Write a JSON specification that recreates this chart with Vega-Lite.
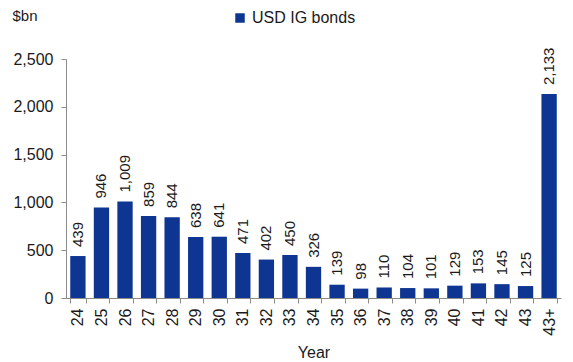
{
  "$schema": "https://vega.github.io/schema/vega-lite/v6.json",
  "width": 495,
  "height": 239,
  "autosize": {"type": "none"},
  "padding": {"left": 66, "top": 59, "right": 12, "bottom": 64},
  "background": "white",
  "config": {
    "font": "Liberation Sans",
    "view": {"stroke": null},
    "axis": {"grid": false, "domainColor": "#8c8c8c", "tickColor": "#8c8c8c", "labelColor": "#1a1a1a", "titleColor": "#1a1a1a", "labelFontSize": 16, "titleFontSize": 16, "titleFontWeight": "normal"}
  },
  "data": {
    "values": [
      {"year": "24", "value": 439, "series": "USD IG bonds"},
      {"year": "25", "value": 946, "series": "USD IG bonds"},
      {"year": "26", "value": 1009, "series": "USD IG bonds"},
      {"year": "27", "value": 859, "series": "USD IG bonds"},
      {"year": "28", "value": 844, "series": "USD IG bonds"},
      {"year": "29", "value": 638, "series": "USD IG bonds"},
      {"year": "30", "value": 641, "series": "USD IG bonds"},
      {"year": "31", "value": 471, "series": "USD IG bonds"},
      {"year": "32", "value": 402, "series": "USD IG bonds"},
      {"year": "33", "value": 450, "series": "USD IG bonds"},
      {"year": "34", "value": 326, "series": "USD IG bonds"},
      {"year": "35", "value": 139, "series": "USD IG bonds"},
      {"year": "36", "value": 98, "series": "USD IG bonds"},
      {"year": "37", "value": 110, "series": "USD IG bonds"},
      {"year": "38", "value": 104, "series": "USD IG bonds"},
      {"year": "39", "value": 101, "series": "USD IG bonds"},
      {"year": "40", "value": 129, "series": "USD IG bonds"},
      {"year": "41", "value": 153, "series": "USD IG bonds"},
      {"year": "42", "value": 145, "series": "USD IG bonds"},
      {"year": "43", "value": 125, "series": "USD IG bonds"},
      {"year": "43+", "value": 2133, "series": "USD IG bonds"}
    ]
  },
  "encoding": {
    "x": {
      "field": "year", "type": "nominal", "sort": null,
      "scale": {"paddingInner": 0.35, "paddingOuter": 0.18},
      "axis": {"title": "Year", "labelAngle": -90, "labelFontSize": 16, "tickBand": "extent", "tickSize": 5, "labelPadding": 5, "titlePadding": 9}
    },
    "y": {
      "field": "value", "type": "quantitative",
      "scale": {"domain": [0, 2500], "nice": false},
      "axis": {"values": [0, 500, 1000, 1500, 2000, 2500], "format": ",.0f", "tickSize": 5, "labelPadding": 8,
        "title": "$bn", "titleFontSize": 15, "titleAngle": 0, "titleX": -54, "titleY": -44, "titleAlign": "left", "titleBaseline": "middle"}
    }
  },
  "layer": [
    {
      "mark": {"type": "bar", "color": "#0D3591"},
      "encoding": {
        "color": {"field": "series", "type": "nominal", "scale": {"range": ["#0D3591"]},
          "legend": {"title": null, "orient": "none", "legendX": 166, "legendY": -49, "symbolType": "square", "symbolSize": 90, "labelFontSize": 16, "labelColor": "#1a1a1a", "labelOffset": 4}}
      }
    },
    {
      "mark": {"type": "text", "angle": 270, "align": "left", "baseline": "middle", "dx": 9, "fontSize": 15, "color": "#1a1a1a"},
      "encoding": {
        "text": {"field": "value", "type": "quantitative", "format": ","}
      }
    }
  ]
}
